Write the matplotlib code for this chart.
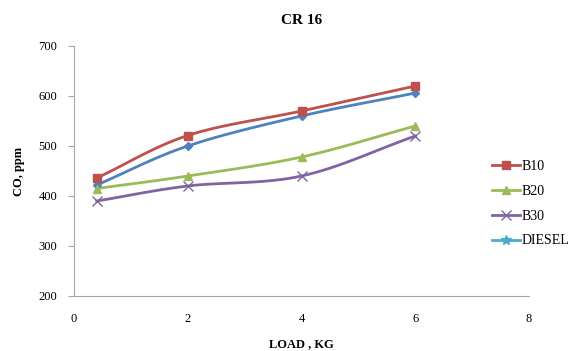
import numpy as np
import matplotlib
matplotlib.use("Agg")
import matplotlib.pyplot as plt

load = [0.4, 2, 4, 6]
s_blue = [422, 500, 560, 606]
b10 = [436, 521, 570, 620]
b20 = [415, 440, 478, 540]
b30 = [390, 420, 440, 520]
diesel = []

plt.rcParams['font.family'] = ['Liberation Serif', 'DejaVu Serif']

def smooth(x, y, n=30):
    x = np.asarray(x, float); y = np.asarray(y, float)
    px = np.concatenate([[2*x[0]-x[1]], x, [2*x[-1]-x[-2]]])
    py = np.concatenate([[2*y[0]-y[1]], y, [2*y[-1]-y[-2]]])
    xs, ys = [], []
    for i in range(1, len(px)-2):
        t = np.linspace(0, 1, n)
        p0, p1, p2, p3 = [np.array([px[j], py[j]]) for j in range(i-1, i+3)]
        c = 0.5*((2*p1)[:, None] + (-p0+p2)[:, None]*t + (2*p0-5*p1+4*p2-p3)[:, None]*t**2 + (-p0+3*p1-3*p2+p3)[:, None]*t**3)
        xs.extend(c[0]); ys.extend(c[1])
    return xs, ys

fig = plt.figure(figsize=(5.78, 3.51), dpi=100)
ax = fig.add_axes([74/578, 1-296/351, (529-74)/578, (296-46)/351])

series = [
    (s_blue, '_nolegend_', '#4F81BD', 'D', 4),
    (b10, 'B10', '#C0504D', 's', 6),
    (b20, 'B20', '#9BBB59', '^', 6),
    (b30, 'B30', '#8064A2', 'x', 7),
]
for vals, lab, col, mk, ms in series:
    xs, ys = smooth(load, vals)
    ax.plot(xs, ys, color=col, lw=2.0, zorder=2)
    ax.plot(load, vals, ls='none', marker=mk, color=col, ms=ms, mew=1.0, zorder=3)
    ax.plot([], [], color=col, lw=2.0, marker=mk, ms=ms, mew=1.0, label=lab)
ax.plot([], [], color='#4BACC6', lw=2.0, marker='*', ms=7, label='DIESEL')
ax.plot(diesel, diesel, color='#4BACC6')

ax.set_xlim(0, 8)
ax.set_ylim(200, 700)
ax.set_xticks([0, 2, 4, 6, 8])
ax.set_yticks(range(200, 701, 100))
for s in ['top', 'right']:
    ax.spines[s].set_visible(False)
for s in ['left', 'bottom']:
    ax.spines[s].set_color('#A6A6A6')
ax.tick_params(axis='y', length=4, color='#A6A6A6', labelsize=9, pad=8)
ax.tick_params(axis='x', length=0, labelsize=9, pad=12)
ax.set_xlabel('LOAD , KG', fontsize=9, fontweight='bold', labelpad=10)
ax.set_ylabel('CO, ppm', fontsize=9, fontweight='bold', labelpad=10)
ax.set_title('CR 16', fontsize=11, fontweight='bold', pad=16)
h, l = ax.get_legend_handles_labels()
fig.legend(h, l, loc='upper left', bbox_to_anchor=(492/578, 1-160/351), frameon=False, fontsize=10,
           handlelength=2.0, handletextpad=0.1, labelspacing=0.85, borderaxespad=0, borderpad=0)

fig.savefig('out.png', dpi=100)
